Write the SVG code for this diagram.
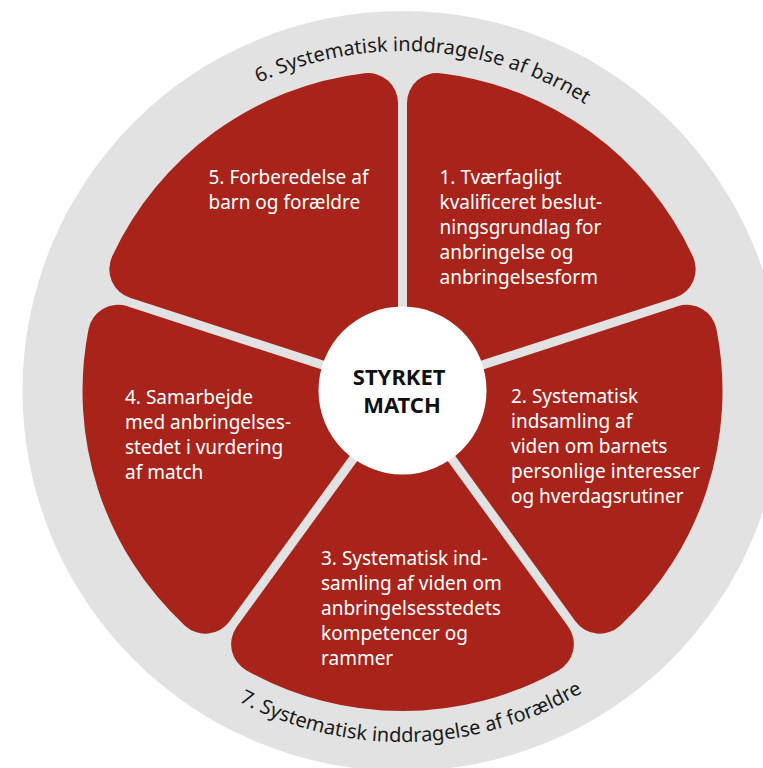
<svg xmlns="http://www.w3.org/2000/svg" xmlns:xlink="http://www.w3.org/1999/xlink" width="763" height="768" viewBox="0 0 763 768">
  <style>
    .ring { fill: #E2E2E2; }
    .petal { fill: #A8231A; }
    .ptxt { font-family: "Noto Sans", "Liberation Sans", sans-serif; font-size: 19px; fill: #FFFFFF; }
    .ctxt { font-family: "Noto Sans", "Liberation Sans", sans-serif; font-size: 22px; font-weight: bold; fill: #111111; text-anchor: middle; }
    .arc { font-family: "Noto Sans", "Liberation Sans", sans-serif; font-size: 20px; fill: #1A1A1A; text-anchor: middle; }
  </style>
  <defs>
    <path id="petalShape" class="petal" d="M 0,-7.65 L 165.61,-235.59 A 30 30 0 0 0 155.96,-279.42 A 320 320 0 0 0 -155.96,-279.42 A 30 30 0 0 0 -165.61,-235.59 Z"/>
    <path id="arcTop" d="M 108.1,221 A 340 340 0 0 1 696.9,221" fill="none"/>
    <path id="arcBottom" d="M 98.5,566.5 A 351 351 0 0 0 706.5,566.5" fill="none"/>
  </defs>

  <g id="ring">
    <circle class="ring" cx="402.5" cy="391" r="380"/>
  </g>

  <g id="label-6">
    <text class="arc"><textPath xlink:href="#arcTop" href="#arcTop" startOffset="378">6. Systematisk inddragelse af barnet</textPath></text>
  </g>
  <g id="label-7">
    <text class="arc"><textPath xlink:href="#arcBottom" href="#arcBottom" startOffset="377">7. Systematisk inddragelse af forældre</textPath></text>
  </g>

  <g id="petal-1">
    <use href="#petalShape" xlink:href="#petalShape" transform="translate(402.5,391) rotate(36)"/>
    <text class="ptxt">
      <tspan x="439.5" y="184.3">1. Tværfagligt</tspan>
      <tspan x="439.5" y="209.3">kvalificeret beslut-</tspan>
      <tspan x="439.5" y="234.3">ningsgrundlag for</tspan>
      <tspan x="439.5" y="259.3">anbringelse og</tspan>
      <tspan x="439.5" y="284.3">anbringelsesform</tspan>
    </text>
  </g>

  <g id="petal-2">
    <use href="#petalShape" xlink:href="#petalShape" transform="translate(402.5,391) rotate(108)"/>
    <text class="ptxt">
      <tspan x="511" y="402.7">2. Systematisk</tspan>
      <tspan x="511" y="427.7">indsamling af</tspan>
      <tspan x="511" y="452.7">viden om barnets</tspan>
      <tspan x="511" y="477.7">personlige interesser</tspan>
      <tspan x="511" y="502.7">og hverdagsrutiner</tspan>
    </text>
  </g>

  <g id="petal-3">
    <use href="#petalShape" xlink:href="#petalShape" transform="translate(402.5,391) rotate(180)"/>
    <text class="ptxt">
      <tspan x="321" y="564.5">3. Systematisk ind-</tspan>
      <tspan x="321" y="589.5">samling af viden om</tspan>
      <tspan x="321" y="614.5">anbringelsesstedets</tspan>
      <tspan x="321" y="639.5">kompetencer og</tspan>
      <tspan x="321" y="664.5">rammer</tspan>
    </text>
  </g>

  <g id="petal-4">
    <use href="#petalShape" xlink:href="#petalShape" transform="translate(402.5,391) rotate(252)"/>
    <text class="ptxt">
      <tspan x="125" y="404">4. Samarbejde</tspan>
      <tspan x="125" y="429">med anbringelses-</tspan>
      <tspan x="125" y="454">stedet i vurdering</tspan>
      <tspan x="125" y="479">af match</tspan>
    </text>
  </g>

  <g id="petal-5">
    <use href="#petalShape" xlink:href="#petalShape" transform="translate(402.5,391) rotate(-36)"/>
    <text class="ptxt">
      <tspan x="208.5" y="184.3">5. Forberedelse af</tspan>
      <tspan x="208.5" y="209.3">barn og forældre</tspan>
    </text>
  </g>

  <g id="center">
    <circle cx="402.5" cy="390.5" r="84" fill="#FFFFFF"/>
    <text class="ctxt">
      <tspan x="402" y="385">STYRKET</tspan>
      <tspan x="402" y="413">MATCH</tspan>
    </text>
  </g>
</svg>
